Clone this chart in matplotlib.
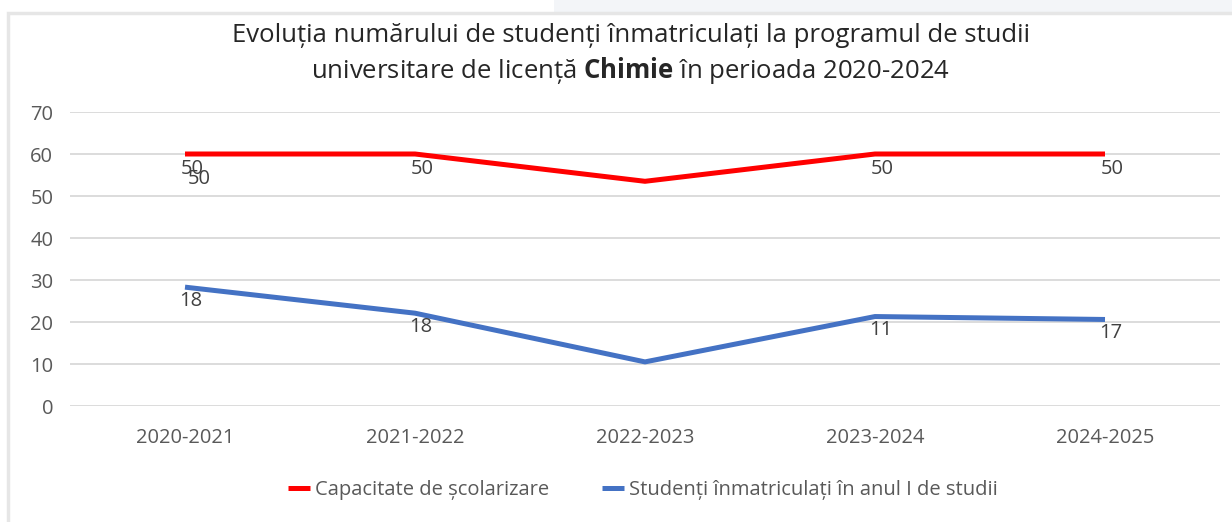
import matplotlib.pyplot as plt
from matplotlib.patches import Rectangle

# date
ani = ["2020-2021", "2021-2022", "2022-2023", "2023-2024", "2024-2025"]
capacitate = [60, 60, 53.5, 60, 60]
inmatriculati = [28.3, 22.1, 10.5, 21.3, 20.6]
etichete_capacitate = ["50", "50", "", "50", "50"]
etichete_inmatriculati = ["18", "18", "", "11", "17"]

plt.rcParams['font.family'] = ['Open Sans', 'DejaVu Sans']
plt.rcParams['mathtext.fontset'] = 'custom'
plt.rcParams['mathtext.rm'] = 'Open Sans'
plt.rcParams['mathtext.bf'] = 'Open Sans:bold'
gri = "#595959"

fig = plt.figure(figsize=(12.32, 5.22), dpi=100)
fig.patch.set_facecolor("white")

# chenarul graficului
fig.patches.append(Rectangle((8 / 1232, -0.05), 1.05, (522 - 13) / 522 + 0.05,
                             transform=fig.transFigure, facecolor="white",
                             edgecolor="#e6e6e6", lw=2.5, zorder=-2))
fig.patches.append(Rectangle((0.45, (522 - 12) / 522), 0.6, 0.05,
                             transform=fig.transFigure, facecolor="#f3f5f8",
                             edgecolor="none", zorder=-3))

ax = fig.add_axes([70 / 1232, (522 - 406) / 522, 1150 / 1232, 294 / 522])
ax.set_facecolor("none")
x = range(len(ani))

ax.plot(x, capacitate, color="#ff0000", lw=3.6, label="Capacitate de școlarizare",
        solid_capstyle="butt", zorder=3)
ax.plot(x, inmatriculati, color="#4472c4", lw=3.6,
        label="Studenți înmatriculați în anul I de studii", solid_capstyle="butt", zorder=3)

fs = 14.5
for i, t in enumerate(etichete_capacitate):
    if t:
        ax.annotate(t, (i, capacitate[i]), xytext=(5, -11), textcoords="offset points",
                    ha="center", va="center", fontsize=fs, color="#404040", zorder=4)
# eticheta dublata de la primul punct
ax.annotate(etichete_capacitate[0], (0, capacitate[0]), xytext=(10, -18),
            textcoords="offset points", ha="center", va="center", fontsize=fs,
            color="#404040", zorder=4)
for i, t in enumerate(etichete_inmatriculati):
    if t:
        ax.annotate(t, (i, inmatriculati[i]), xytext=(4, -10), textcoords="offset points",
                    ha="center", va="center", fontsize=fs, color="#404040", zorder=4)

ax.set_xlim(-0.5, len(ani) - 0.5)
ax.set_ylim(0, 70)
ax.set_yticks(range(0, 71, 10))
ax.set_xticks(list(x))
ax.set_xticklabels(ani)
ax.grid(axis="y", color="#d9d9d9", lw=1.3)
ax.set_axisbelow(True)
for s in ax.spines.values():
    s.set_visible(False)
ax.tick_params(axis="both", length=0, labelsize=fs, colors=gri)
ax.tick_params(axis="x", pad=16)
ax.tick_params(axis="y", pad=12)

fig.text(0.512, (522 - 35) / 522,
         "Evoluția numărului de studenți înmatriculați la programul de studii",
         ha="center", va="center", fontsize=18.5, color="#262626")
fig.text(0.512, (522 - 70) / 522,
         r"universitare de licență $\mathbf{Chimie}$ în perioada 2020-2024",
         ha="center", va="center", fontsize=18.5, color="#262626")

leg = ax.legend(loc="center", bbox_to_anchor=(0.522, (522 - 490) / 522),
                bbox_transform=fig.transFigure, ncol=2, frameon=False,
                fontsize=fs, handlelength=1.1, handletextpad=0.25, columnspacing=2.6)
for t in leg.get_texts():
    t.set_color(gri)

fig.savefig("out.png", dpi=100)
